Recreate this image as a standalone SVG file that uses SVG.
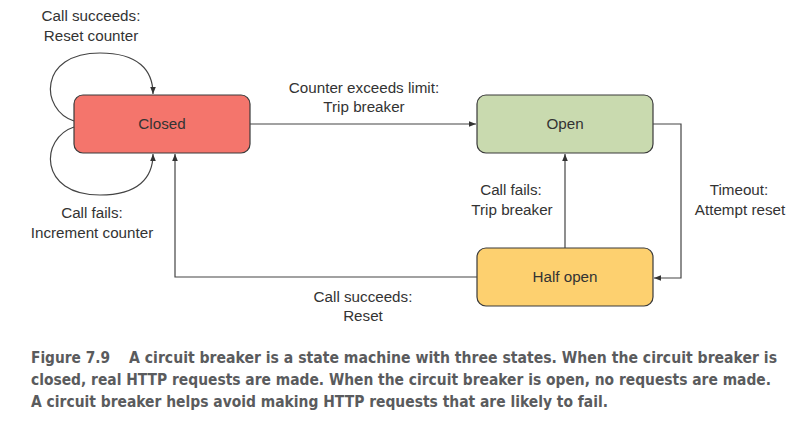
<svg xmlns="http://www.w3.org/2000/svg" width="802" height="430" viewBox="0 0 802 430">
<defs>
<style>
.box{stroke:#3a3a3a;stroke-width:1.2}
.lbl{font-family:"Liberation Sans",Arial,sans-serif;font-size:15.2px;fill:#333;text-anchor:middle}
.edge{fill:none;stroke:#444;stroke-width:1.2}
.cap{font-family:"Liberation Sans Narrow","DejaVu Sans Condensed","Liberation Sans",sans-serif;font-stretch:condensed;font-weight:bold;font-size:15.5px;fill:#5a5b5d}
</style>
<marker id="ah" viewBox="0 0 10 10" refX="10" refY="5" markerWidth="7" markerHeight="7" markerUnits="userSpaceOnUse" orient="auto">
<path d="M0,1 L10,5 L0,9 Z" fill="#333"/>
</marker>
</defs>
<rect width="802" height="430" fill="#fff"/>
<g id="closed">
<rect class="box" x="74" y="95" width="176" height="58" rx="9" fill="#f4756c"/>
<text class="lbl" x="162" y="129">Closed</text>
</g>
<g id="open">
<rect class="box" x="477" y="95" width="176" height="58" rx="9" fill="#c9daaf"/>
<text class="lbl" x="565" y="129">Open</text>
</g>
<g id="halfopen">
<rect class="box" x="477" y="248" width="176" height="58" rx="9" fill="#fdd06f"/>
<text class="lbl" x="565" y="282">Half open</text>
</g>
<g id="connectors">
<path class="edge" d="M250,124 H476" marker-end="url(#ah)"/>
<path class="edge" d="M653,124 H681 V278 H654" marker-end="url(#ah)"/>
<path class="edge" d="M565,248 V154" marker-end="url(#ah)"/>
<path class="edge" d="M477,277 H175 V154" marker-end="url(#ah)"/>
<path class="edge" d="M74,121 C40,110 38,53 100,53 C138,53 153,70 153,94" marker-end="url(#ah)"/>
<path class="edge" d="M74,127 C40,138 38,195 100,195 C138,195 153,178 153,154" marker-end="url(#ah)"/>
</g>
<g id="labels">
<text class="lbl" x="91" y="21">Call succeeds:</text>
<text class="lbl" x="91" y="41">Reset counter</text>
<text class="lbl" x="92" y="218">Call fails:</text>
<text class="lbl" x="92" y="238">Increment counter</text>
<text class="lbl" x="364" y="93">Counter exceeds limit:</text>
<text class="lbl" x="364" y="112">Trip breaker</text>
<text class="lbl" x="511" y="195">Call fails:</text>
<text class="lbl" x="512" y="215">Trip breaker</text>
<text class="lbl" x="739" y="195">Timeout:</text>
<text class="lbl" x="740" y="215">Attempt reset</text>
<text class="lbl" x="363" y="302">Call succeeds:</text>
<text class="lbl" x="363" y="321">Reset</text>
</g>
<g id="caption">
<text class="cap" x="31" y="363" textLength="79" lengthAdjust="spacingAndGlyphs">Figure 7.9</text>
<text class="cap" x="129" y="363" textLength="648" lengthAdjust="spacingAndGlyphs">A circuit breaker is a state machine with three states. When the circuit breaker is</text>
<text class="cap" x="31" y="385" textLength="740" lengthAdjust="spacingAndGlyphs">closed, real HTTP requests are made. When the circuit breaker is open, no requests are made.</text>
<text class="cap" x="31" y="407" textLength="577" lengthAdjust="spacingAndGlyphs">A circuit breaker helps avoid making HTTP requests that are likely to fail.</text>
</g>
</svg>
